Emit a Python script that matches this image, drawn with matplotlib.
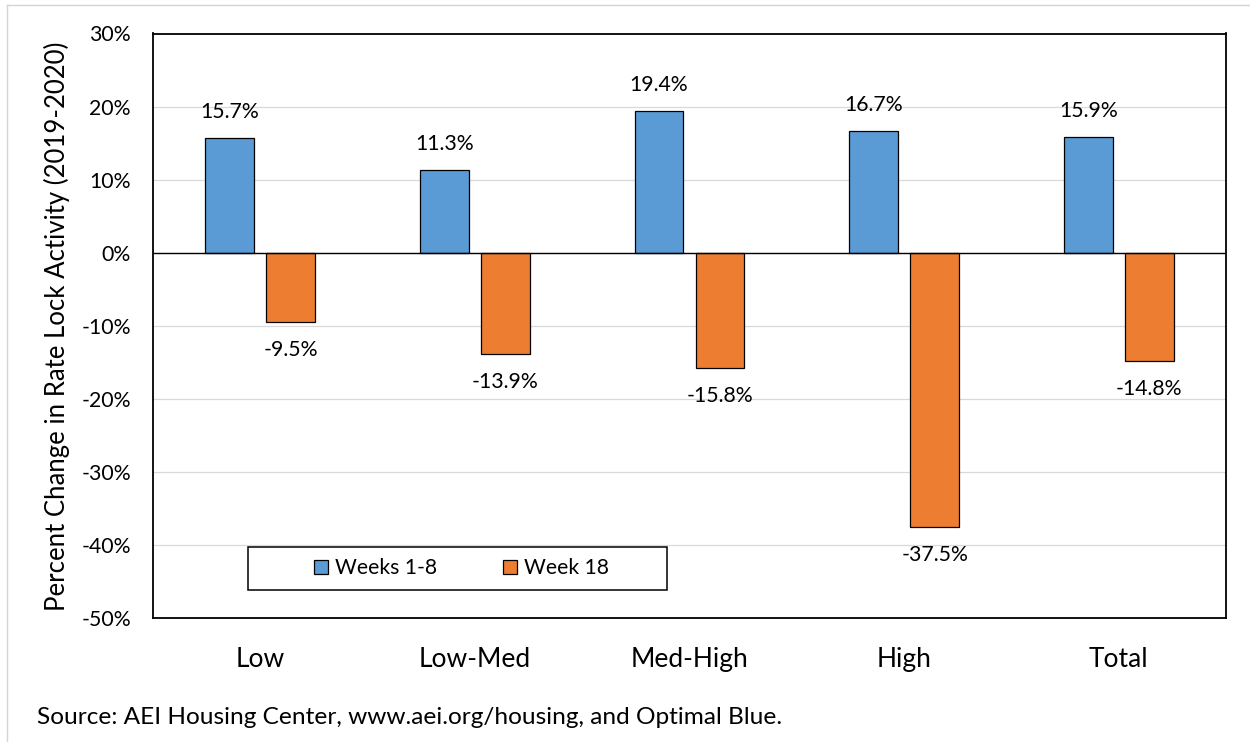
import matplotlib
matplotlib.use("Agg")
import matplotlib.pyplot as plt
import numpy as np
from matplotlib.patches import Patch, Rectangle
from matplotlib.ticker import FuncFormatter, MultipleLocator

# Data
categories = ["Low", "Low-Med", "Med-High", "High", "Total"]
weeks_1_8 = [15.7, 11.3, 19.4, 16.7, 15.9]
week_18 = [-9.5, -13.9, -15.8, -37.5, -14.8]
series_names = ["Weeks 1-8", "Week 18"]
y_label = "Percent Change in Rate Lock Activity (2019-2020)"
source_note = "Source: AEI Housing Center, www.aei.org/housing, and Optimal Blue."

BLUE = "#5B9BD5"
ORANGE = "#ED7D31"
FONT = "Lato"

W, H = 1250, 742
fig = plt.figure(figsize=(W / 100, H / 100), dpi=100)
plt.rcParams["font.family"] = [FONT, "DejaVu Sans"]


def fx(px):
    return px / W


def fy(py):
    return 1 - py / H


ax = fig.add_axes([fx(153), fy(618.3), fx(1226) - fx(153), fy(33.5) - fy(618.3)])

x = np.arange(len(categories))
offset = 0.142
width = 0.227

bars_a = ax.bar(x - offset, weeks_1_8, width, color=BLUE, edgecolor="black",
                linewidth=0.9, zorder=3)
bars_b = ax.bar(x + offset, week_18, width, color=ORANGE, edgecolor="black",
                linewidth=0.9, zorder=3)

# Value labels at the outer end of each bar
for rect, v in zip(bars_a, weeks_1_8):
    ax.annotate(f"{v:.1f}%", (rect.get_x() + rect.get_width() / 2, v),
                xytext=(0, 26), textcoords="offset pixels",
                ha="center", va="center", fontsize=15.3, color="black")
for rect, v in zip(bars_b, week_18):
    ax.annotate(f"{v:.1f}%", (rect.get_x() + rect.get_width() / 2, v),
                xytext=(0, -28), textcoords="offset pixels",
                ha="center", va="center", fontsize=15.3, color="black")

ax.set_xlim(-0.5, len(categories) - 0.5)
ax.set_ylim(-50, 30)
ax.yaxis.set_major_locator(MultipleLocator(10))
ax.yaxis.set_major_formatter(FuncFormatter(lambda v, _: f"{v:.0f}%"))
ax.grid(axis="y", color="#D9D9D9", linewidth=0.9, zorder=0)
ax.set_axisbelow(True)
ax.axhline(0, color="black", linewidth=1.0, zorder=4)

ax.set_xticks(x)
ax.set_xticklabels(categories, fontsize=19)
ax.tick_params(axis="x", length=0, pad=21)
ax.tick_params(axis="y", length=0, pad=16, labelsize=15.3)

for s in ax.spines.values():
    s.set_color("black")
    s.set_linewidth(1.3)

# Y axis title
fig.text(fx(57), fy(326), y_label, rotation=90, ha="center", va="center",
         fontsize=18.5)

# Legend box
box = Rectangle((fx(248.3), fy(590)), fx(666.7) - fx(248.3), fy(547.3) - fy(590),
                transform=fig.transFigure, facecolor="white", edgecolor="black",
                linewidth=1.1, zorder=5)
fig.patches.append(box)
handles = [Patch(facecolor=BLUE, edgecolor="black", linewidth=0.9),
           Patch(facecolor=ORANGE, edgecolor="black", linewidth=0.9)]
leg = fig.legend(handles, series_names, loc="center", ncol=2,
                 bbox_to_anchor=(fx(461.5), fy(568.5)), frameon=False,
                 fontsize=15.2, handlelength=0.68, handleheight=0.68,
                 handletextpad=0.32, columnspacing=3.1, borderpad=0)
leg.set_zorder(6)

# Source note
fig.text(fx(37), fy(717), source_note, ha="left", va="center", fontsize=17.6)

# Outer page frame lines
fig.add_artist(plt.Line2D([fx(7), 1], [fy(5), fy(5)], transform=fig.transFigure,
                          color="#D4D4D4", linewidth=1.0))
fig.add_artist(plt.Line2D([fx(7), fx(7)], [0, fy(5)], transform=fig.transFigure,
                          color="#D4D4D4", linewidth=1.0))

fig.savefig("out.png", dpi=100)
